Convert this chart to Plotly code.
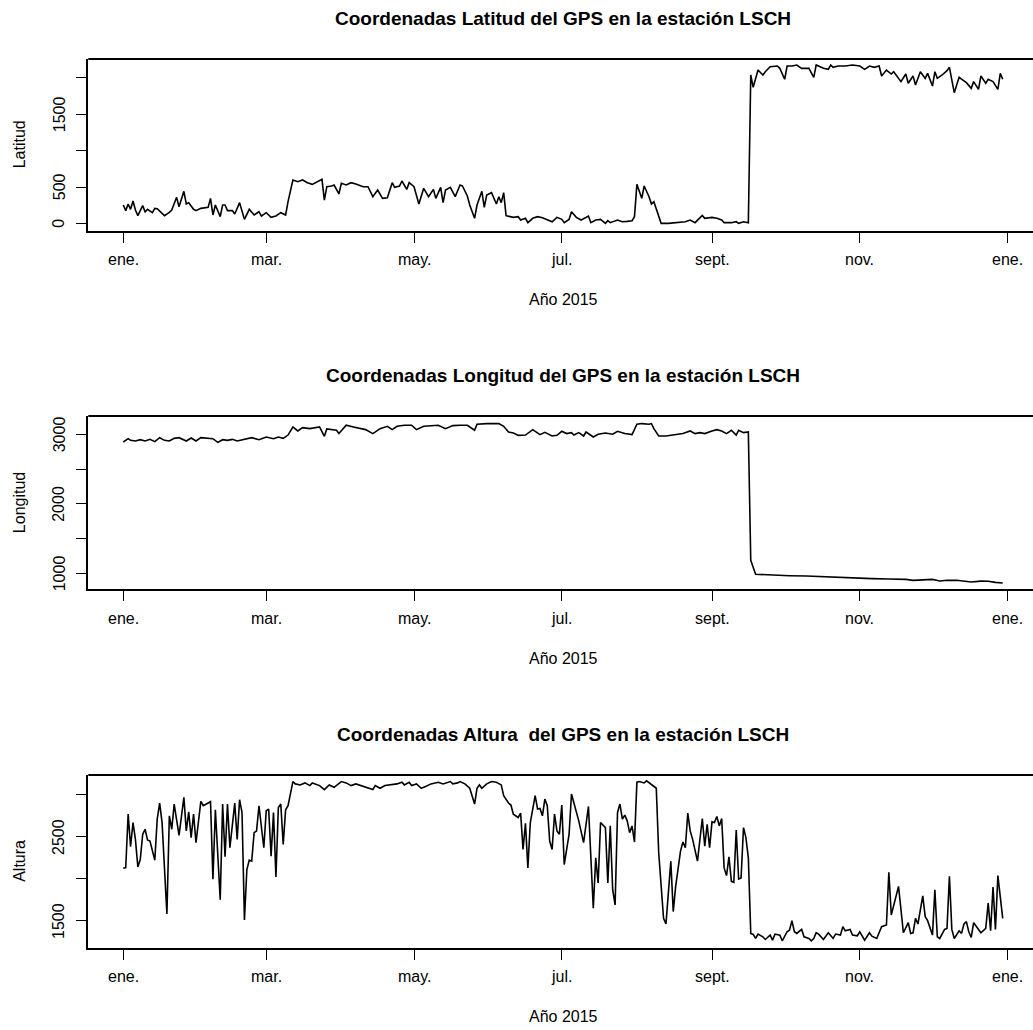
import plotly.graph_objects as go

# ---------------- data (day of 2015, value) ----------------
month_tick_days = [0, 59, 120, 181, 243, 304, 365]
month_tick_text = ["ene.", "mar.", "may.", "jul.", "sept.", "nov.", "ene."]

lat_days = [0,1,2,3,4,5,6,8,9,10,12,13,14,16,17,19,20,22,23,25,26,27,29,30,32,35,36,37,38,40,41,42,43,45,46,48,50,52,53,54,56,57,59,61,63,65,67,68,
            70,72,74,76,78,80,82,83,84,86,87,89,90,92,94,96,99,101,103,105,107,109,111,112,114,115,117,118,120,122,124,126,128,129,131,132,133,135,136,137,139,140,142,143,145,146,148,149,150,152,154,155,156,157,
            158,159,161,163,164,166,167,169,171,173,175,177,179,181,182,184,185,187,189,192,193,195,197,199,200,201,204,206,208,210,211,
            212,214,215,217,218,219,220,222,225,229,232,234,236,239,240,243,245,247,248,251,253,254,256,258,
            259,260,262,264,265,267,270,271,273,274,276,278,280,283,285,286,289,291,292,293,295,298,301,304,306,308,310,312,313,315,317,318,321,323,324,326,327,329,331,332,334,335,336,338,340,341,343,345,348,350,351,353,354,356,357,359,361,362,363]
lat_vals = [256,179,270,197,311,187,110,247,164,197,151,210,206,142,110,155,187,361,233,443,270,288,197,179,210,224,347,119,256,96,256,256,179,179,133,288,59,197,164,119,164,105,151,87,105,151,119,302,
            599,576,599,562,539,576,608,324,507,516,530,407,553,530,562,544,507,507,370,461,347,356,562,498,516,585,470,562,507,270,484,370,470,347,498,288,461,498,425,370,530,516,379,256,74,256,443,224,393,425,270,370,288,425,
            110,105,87,96,50,74,14,74,96,82,59,27,87,59,14,59,164,87,50,105,14,50,59,5,41,14,50,27,32,41,96,
            539,347,516,370,270,302,197,5,5,14,27,50,14,114,74,87,74,50,14,14,27,5,27,14,
            2037,1868,2105,2037,2082,2151,2160,2128,1978,2160,2160,2174,2128,2128,2005,2174,2128,2115,2174,2142,2160,2160,2174,2160,2115,2160,2142,2160,2023,2105,2050,2082,1946,2050,1923,2023,1900,2082,1991,2059,1886,2082,1991,2037,2096,2142,1795,2005,1932,1854,1946,1840,2023,1923,1978,1946,1840,2059,1978]

lon_days = [0,2,3,5,7,9,11,13,15,17,19,21,23,25,26,28,30,32,35,37,39,41,43,45,47,50,53,56,59,62,64,66,68,70,72,74,77,81,83,84,88,89,92,95,98,100,103,106,109,111,113,116,119,121,124,128,130,133,136,139,142,145,146,150,153,155,157,159,161,163,166,169,172,174,177,
            179,181,183,185,186,188,190,191,194,196,199,202,204,207,210,212,214,217,218,219,221,224,227,231,234,236,238,240,243,245,247,249,251,253,254,256,258,
            259,261,268,275,282,289,296,303,309,316,323,326,330,334,337,340,344,347,350,354,357,360,363]
lon_vals = [2889,2937,2913,2903,2922,2903,2927,2894,2951,2913,2903,2941,2951,2922,2903,2946,2903,2951,2941,2937,2884,2922,2913,2927,2903,2922,2951,2922,2960,2937,2960,2941,2989,3105,3048,3096,3081,3105,2971,3077,3058,3010,3130,3105,3081,3067,3010,3081,3115,3067,3115,3130,3130,3067,3115,3130,3130,3081,3125,3130,3130,3058,3144,3154,3154,3154,3115,3033,3019,2985,2989,3067,2995,3029,2975,
            2985,3043,3010,3024,2989,3024,2975,3033,2961,3000,3019,3000,3043,3010,2995,3144,3154,3144,3154,3081,2975,2975,2989,3010,3048,3010,3024,3010,3048,3067,3048,3010,3058,2989,3058,3024,3033,
            1187,986,971,966,961,950,942,930,923,918,913,899,908,913,889,900,899,885,875,888,885,870,861]

alt_days = [0,1,2,3,4,5,6,7,8,9,10,11,13,14,15,16,18,19,20,21,23,25,26,27,28,29,30,32,33,35,36,37,38,40,41,42,43,44,46,47,48,49,50,51,52,53,54,55,56,58,59,60,61,62,63,64,65,66,67,68,
            70,71,73,75,77,78,81,83,85,87,88,90,92,94,96,99,101,103,104,106,108,110,113,115,116,118,119,121,123,125,127,130,132,135,136,138,139,141,143,145,146,147,148,150,152,154,156,
            157,159,160,161,163,164,165,166,167,168,170,171,172,173,174,175,176,177,178,179,180,181,182,184,185,187,188,190,192,194,195,196,197,199,200,201,202,203,204,205,206,207,208,209,210,211,
            212,213,215,216,218,219,220,221,223,224,226,227,228,230,231,232,233,234,235,237,239,240,241,242,243,244,245,246,247,248,249,250,251,252,253,254,255,256,257,258,
            259,260,261,262,264,265,267,268,269,271,272,274,275,276,277,278,280,281,283,284,285,286,287,289,291,293,294,296,297,298,300,301,303,304,306,308,309,311,313,315,316,317,320,322,324,325,326,327,328,330,331,332,334,335,336,337,339,340,341,342,343,345,346,347,348,349,350,351,353,354,356,357,358,359,360,361,363]
alt_vals = [2128,2136,2772,2384,2672,2472,2144,2232,2532,2592,2464,2452,2224,2712,2904,2672,1584,2752,2592,2892,2520,2972,2572,2800,2492,2772,2432,2924,2872,2904,2920,1996,2824,1752,2892,2264,2892,2372,2904,2472,2944,2792,1512,2112,2224,2212,2552,2572,2872,2372,2812,2832,2272,2792,2024,2852,2892,2412,2824,2872,
            3160,3132,3120,3144,3112,3144,3112,3064,3120,3092,3112,3160,3144,3112,3132,3104,3080,3064,3112,3080,3112,3120,3132,3152,3120,3152,3112,3132,3080,3104,3132,3152,3132,3160,3132,3144,3160,3132,3080,2892,3080,3120,3080,3132,3160,3152,3120,
            2992,2904,2880,2772,2732,2784,2352,2664,2132,2672,2992,2832,2840,2752,2952,2872,2452,2352,2772,2572,2532,2880,2172,2532,3012,2792,2692,2432,2864,1652,2252,1952,2672,2612,1952,2632,1872,1692,2792,2892,2712,2760,2692,2552,2632,2440,
            3152,3160,3144,3168,3120,3104,3080,2312,1532,1464,2212,1612,1912,2332,2440,2372,2784,2572,2472,2212,2720,2392,2652,2372,2680,2672,2744,2632,2720,2132,2040,2264,1972,1960,2584,2000,2012,2612,2492,2252,
            1352,1340,1292,1344,1312,1280,1332,1272,1344,1332,1264,1372,1392,1504,1372,1352,1400,1312,1292,1264,1292,1360,1344,1280,1360,1292,1344,1332,1432,1384,1400,1332,1324,1372,1272,1360,1320,1292,1432,1452,2080,1572,1912,1360,1480,1352,1360,1532,1464,1800,1552,1504,1332,1872,1312,1292,1400,1412,2032,1400,1292,1384,1352,1464,1492,1372,1304,1480,1400,1360,1412,1712,1384,1904,1400,2040,1532]

titles = ["Coordenadas Latitud del GPS en la estación LSCH",
          "Coordenadas Longitud del GPS en la estación LSCH",
          "Coordenadas Altura\u00a0 del GPS en la estación LSCH"]
ylabels = ["Latitud", "Longitud", "Altura"]
xlabel = "Año 2015"

lat_ticks = [0, 500, 1000, 1500, 2000]
lat_ticktext = ["0", "500", "", "1500", ""]
lon_ticks = [1000, 1500, 2000, 2500, 3000]
lon_ticktext = ["1000", "", "2000", "", "3000"]
alt_ticks = [1500, 2000, 2500, 3000]
alt_ticktext = ["1500", "", "2500", ""]

# ---------------- layout geometry ----------------
W, H = 1033, 1030
FONT = "Liberation Sans, Arial, Helvetica, sans-serif"
FS = 16
x_dom = [88.3 / W, 1.0]
x_range = [-14.45, 375.5]
PLOT_CENTER = 563

panels = [
    dict(days=lat_days, vals=lat_vals, ticks=lat_ticks, tt=lat_ticktext, yr=[-96, 2256], top=59.0, bot=230.7),
    dict(days=lon_days, vals=lon_vals, ticks=lon_ticks, tt=lon_ticktext, yr=[770, 3263], top=416.0, bot=589.3),
    dict(days=alt_days, vals=alt_vals, ticks=alt_ticks, tt=alt_ticktext, yr=[1182, 3238], top=775.0, bot=947.7),
]

fig = go.Figure()
annotations = []
shapes = []
layout_axes = {}
tfont = dict(family=FONT, size=FS, color="black")
for i, p in enumerate(panels):
    n = "" if i == 0 else str(i + 1)
    fig.add_trace(go.Scatter(x=p["days"], y=p["vals"], mode="lines",
                             line=dict(color="black", width=1.6),
                             xaxis="x" + n, yaxis="y" + n, showlegend=False,
                             hoverinfo="skip"))
    ydom = [1 - p["bot"] / H, 1 - p["top"] / H]
    layout_axes["xaxis" + n] = dict(
        domain=x_dom, range=x_range, anchor="y" + n,
        showline=True, linecolor="black", linewidth=1.8,
        ticks="outside", ticklen=10, tickwidth=1.4, tickcolor="black",
        tickvals=month_tick_days, showticklabels=False,
        showgrid=False, zeroline=False, fixedrange=True)
    layout_axes["yaxis" + n] = dict(
        domain=ydom, range=p["yr"], anchor="x" + n,
        showline=True, linecolor="black", linewidth=1.8,
        ticks="outside", ticklen=10, tickwidth=1.4, tickcolor="black",
        tickvals=p["ticks"], showticklabels=False,
        showgrid=False, zeroline=False, fixedrange=True)
    # top border (right border falls outside the page)
    shapes.append(dict(type="line", xref="x" + n + " domain", yref="y" + n + " domain",
                       x0=0, x1=1, y0=1, y1=1, line=dict(color="black", width=1.8)))
    # x tick labels (positioned through the x axis scale)
    for d, t in zip(month_tick_days, month_tick_text):
        annotations.append(dict(text=t, xref="x" + n, yref="paper", x=d,
                                y=1 - (p["bot"] + 29) / H, showarrow=False,
                                xanchor="center", yanchor="middle", font=tfont))
    # y tick labels (positioned through the y axis scale)
    for v, t in zip(p["ticks"], p["tt"]):
        if t:
            annotations.append(dict(text=t, xref="paper", yref="y" + n, x=59 / W, y=v,
                                    showarrow=False, textangle=-90,
                                    xanchor="center", yanchor="middle", font=tfont))
    annotations.append(dict(text="<b>" + titles[i] + "</b>", xref="paper", yref="paper",
                            x=PLOT_CENTER / W, y=1 - (p["top"] - 41) / H, showarrow=False,
                            xanchor="center", yanchor="middle",
                            font=dict(family=FONT, size=19, color="black")))
    annotations.append(dict(text=xlabel, xref="paper", yref="paper",
                            x=PLOT_CENTER / W, y=1 - (p["bot"] + 69) / H, showarrow=False,
                            xanchor="center", yanchor="middle", font=tfont))
    annotations.append(dict(text=ylabels[i], xref="paper", yref="paper",
                            x=19.5 / W, y=1 - (p["top"] + p["bot"]) / 2 / H, showarrow=False,
                            textangle=-90, xanchor="center", yanchor="middle", font=tfont))

fig.update_layout(width=W, height=H, margin=dict(l=0, r=0, t=0, b=0),
                  plot_bgcolor="white", paper_bgcolor="white",
                  annotations=annotations, shapes=shapes, **layout_axes)

fig.write_html("out.html")
